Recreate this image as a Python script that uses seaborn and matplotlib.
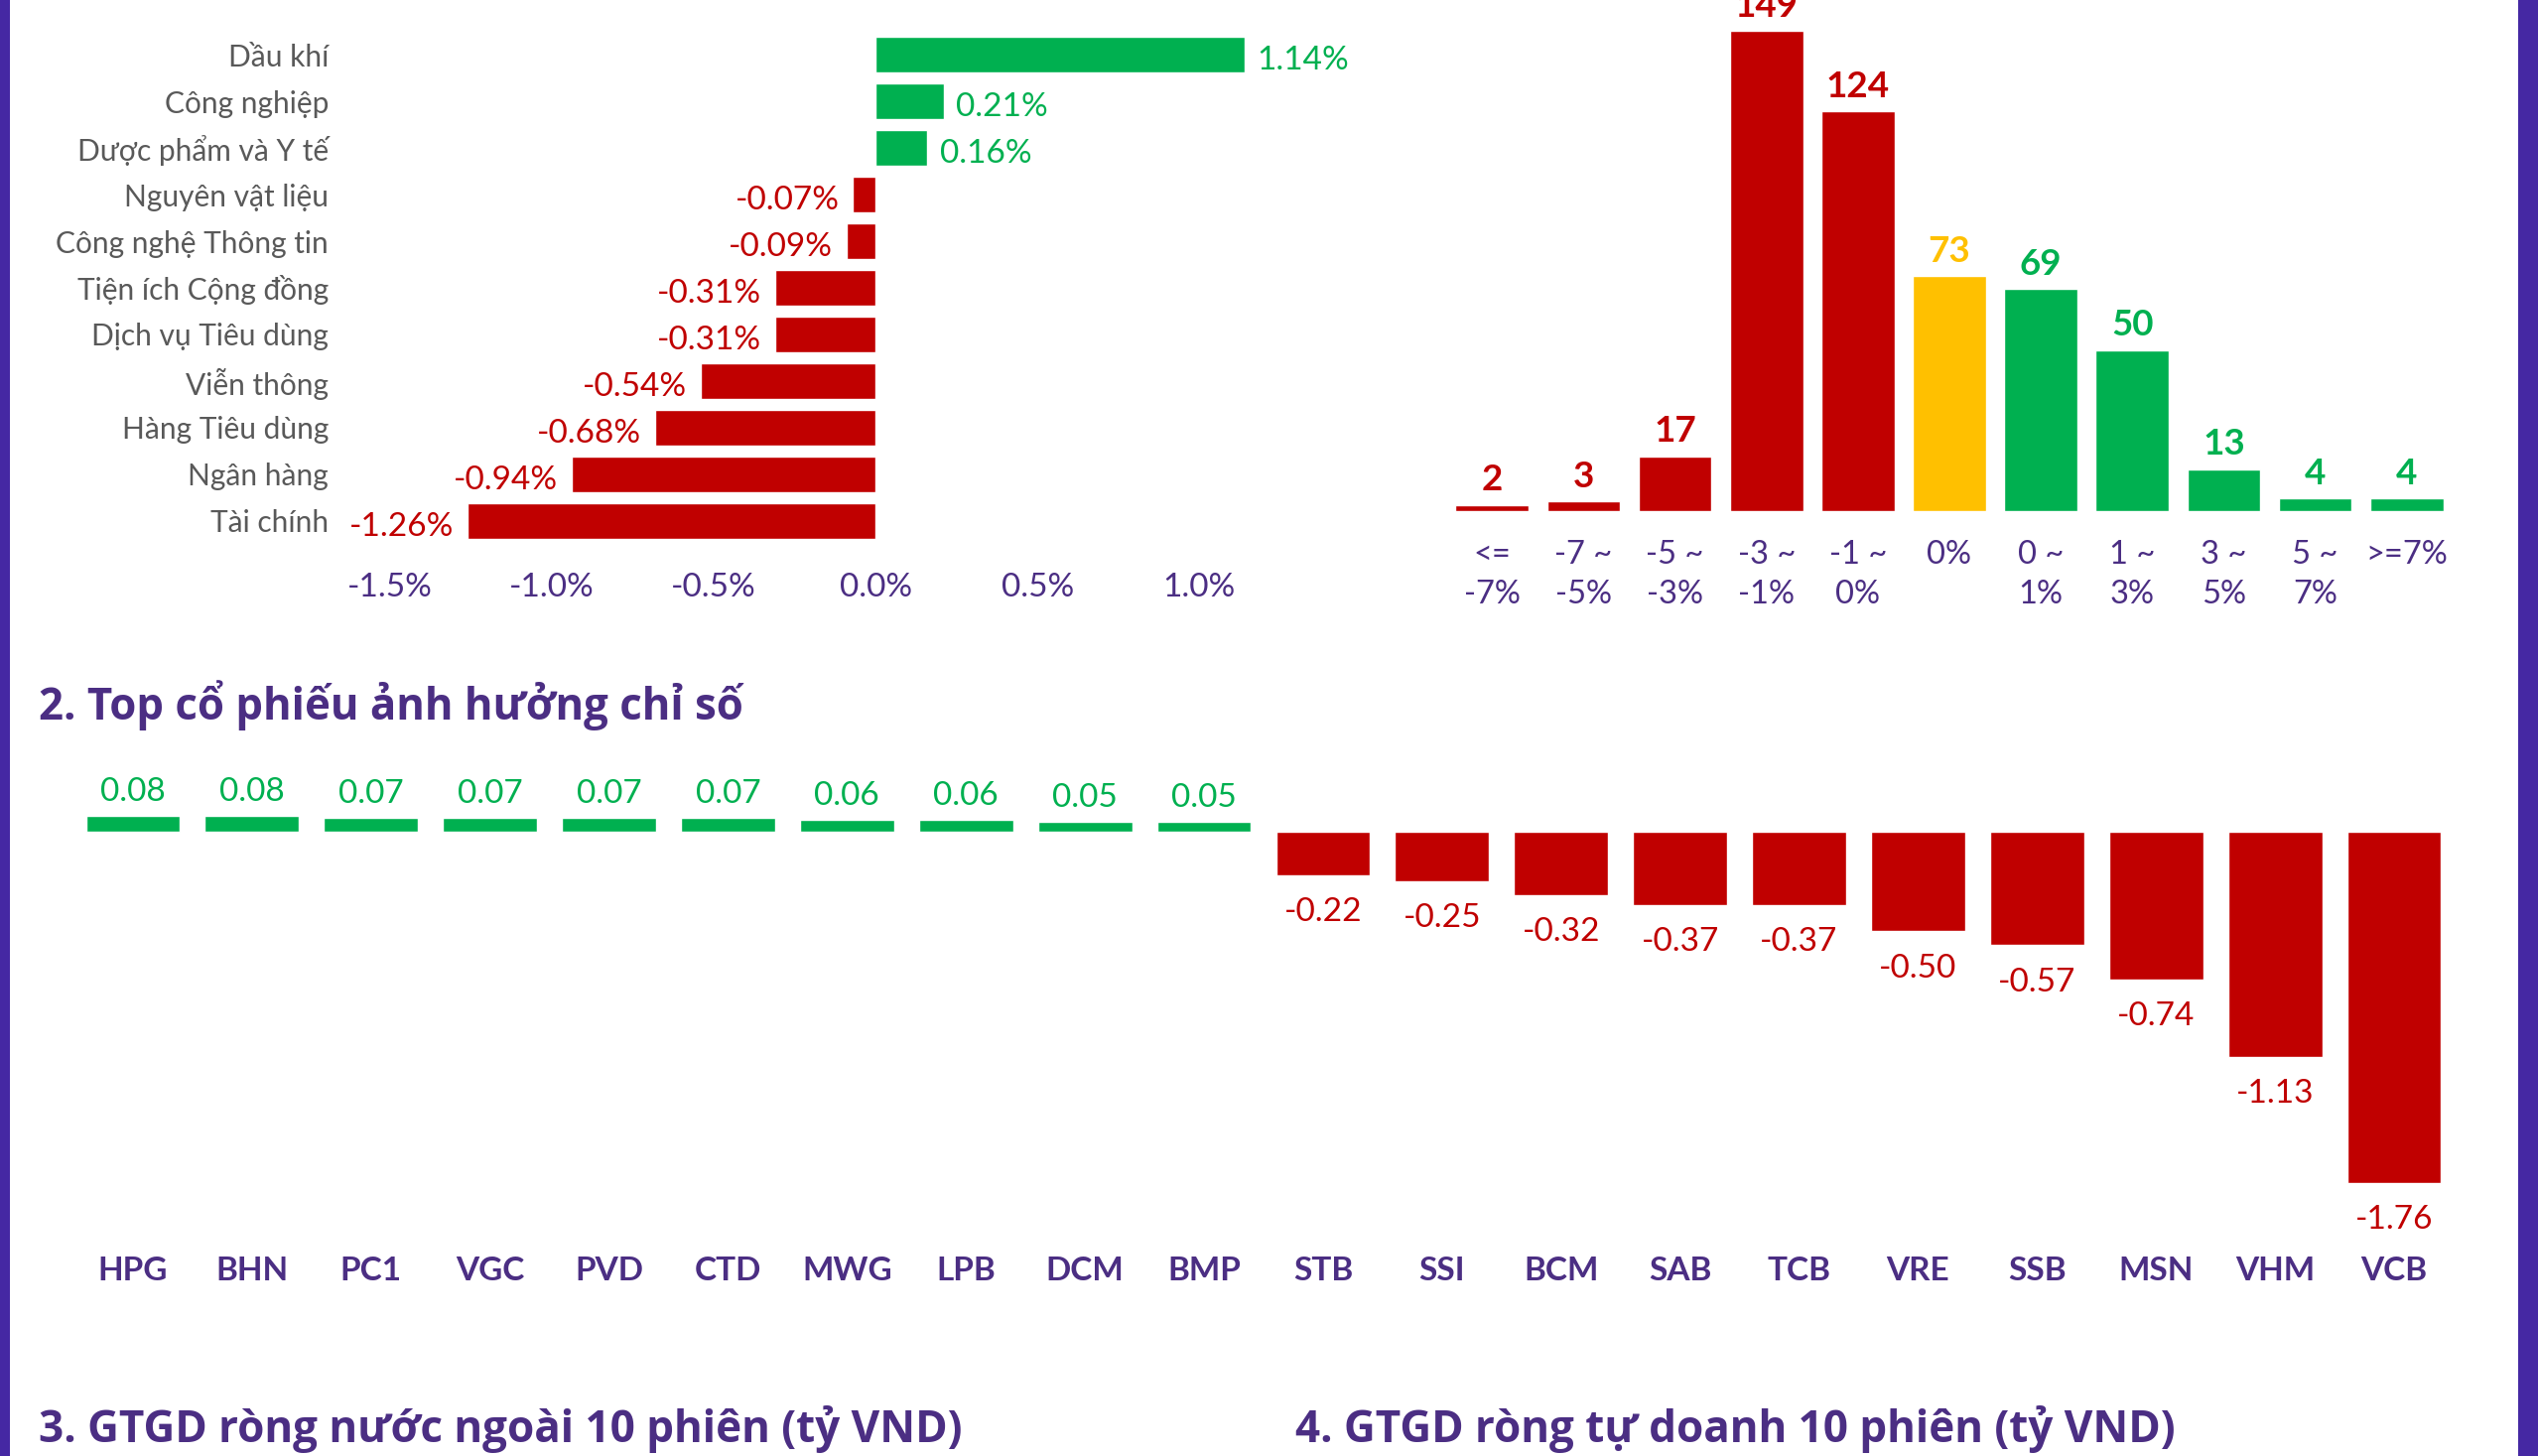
import matplotlib
matplotlib.use("Agg")
import matplotlib.pyplot as plt
import seaborn as sns
import pandas as pd
from matplotlib.patches import Rectangle

# 1. sector performance (%)
sectors = ["Dầu khí", "Công nghiệp", "Dược phẩm và Y tế", "Nguyên vật liệu",
           "Công nghệ Thông tin", "Tiện ích Cộng đồng", "Dịch vụ Tiêu dùng",
           "Viễn thông", "Hàng Tiêu dùng", "Ngân hàng", "Tài chính"]
sector_chg = [1.14, 0.21, 0.16, -0.07, -0.09, -0.31, -0.31, -0.54, -0.68, -0.94, -1.26]
sector_ticks = [-1.5, -1.0, -0.5, 0.0, 0.5, 1.0]

# price change distribution (number of stocks)
bins = ["<=\n-7%", "-7 ~\n-5%", "-5 ~\n-3%", "-3 ~\n-1%", "-1 ~\n0%", "0%",
        "0 ~\n1%", "1 ~\n3%", "3 ~\n5%", "5 ~\n7%", ">=7%"]
bin_counts = [2, 3, 17, 149, 124, 73, 69, 50, 13, 4, 4]
bin_side = ["down"] * 5 + ["flat"] + ["up"] * 5

# 2. top stocks impact on index
stocks = ["HPG", "BHN", "PC1", "VGC", "PVD", "CTD", "MWG", "LPB", "DCM", "BMP",
          "STB", "SSI", "BCM", "SAB", "TCB", "VRE", "SSB", "MSN", "VHM", "VCB"]
impact = [0.08, 0.08, 0.07, 0.07, 0.07, 0.07, 0.06, 0.06, 0.05, 0.05,
          -0.22, -0.25, -0.32, -0.37, -0.37, -0.50, -0.57, -0.74, -1.13, -1.76]

title2 = "2. Top cổ phiếu ảnh hưởng chỉ số"
title3 = "3. GTGD ròng nước ngoài 10 phiên (tỷ VND)"
title4 = "4. GTGD ròng tự doanh 10 phiên (tỷ VND)"

RED = "#C00000"
GREEN = "#00B050"
YELLOW = "#FFC000"
PURPLE = "#4B2E83"
BORDER = "#4528A3"
GRAY = "#595959"

sns.set_style("white")
plt.rcParams["font.family"] = ["Lato", "DejaVu Sans"]
TITLE_FONT = ["Open Sans", "DejaVu Sans"]

W, H = 2557, 1467
fig = plt.figure(figsize=(W / 100, H / 100), dpi=100)
fig.patch.set_facecolor("white")


def box(x0, y0, x1, y1):
    return [x0 / W, 1 - y1 / H, (x1 - x0) / W, (y1 - y0) / H]


def clean(ax):
    for s in ax.spines.values():
        s.set_visible(False)
    ax.set_xlabel("")
    ax.set_ylabel("")
    ax.tick_params(length=0)
    ax.set_facecolor("none")


# ---- panel 1: sectors ----
df1 = pd.DataFrame({"sector": sectors, "chg": sector_chg})
pal1 = {s: (GREEN if v > 0 else RED) for s, v in zip(sectors, sector_chg)}
ax1 = fig.add_axes(box(345, 27, 1355, 553))
sns.barplot(data=df1, x="chg", y="sector", hue="sector", palette=pal1,
            orient="h", width=0.78, legend=False, saturation=1, ax=ax1)
clean(ax1)
ax1.set_xlim(-1.647, 1.45)
ax1.set_ylim(10.6, -0.6)
ax1.set_xticks(sector_ticks)
ax1.set_xticklabels([f"{t:.1f}%" for t in sector_ticks], fontsize=24, color=PURPLE)
ax1.tick_params(axis="x", pad=17)
ax1.tick_params(axis="y", pad=10, labelsize=21.5, labelcolor=GRAY)
for i, v in enumerate(sector_chg):
    ax1.annotate(f"{v:.2f}%", (v, i), xytext=(9 if v > 0 else -10, -2),
                 textcoords="offset points", ha="left" if v > 0 else "right",
                 va="center_baseline", fontsize=24, color=GREEN if v > 0 else RED)

# ---- panel 1b: distribution ----
df2 = pd.DataFrame({"bin": bins, "n": bin_counts, "side": bin_side})
side_col = {"down": RED, "flat": YELLOW, "up": GREEN}
pal2 = {b: side_col[s] for b, s in zip(bins, bin_side)}
ax2 = fig.add_axes(box(1448, 28, 2480, 515))
sns.barplot(data=df2, x="bin", y="n", hue="bin", palette=pal2, width=0.8,
            legend=False, saturation=1, ax=ax2)
clean(ax2)
ax2.set_ylim(0, 150)
ax2.set_xlim(-0.6, 10.6)
ax2.set_yticks([])
for t in ax2.get_xticklabels():
    t.set_fontsize(23.5)
    t.set_color(PURPLE)
    t.set_linespacing(1.4)
ax2.tick_params(axis="x", pad=21)
for i, v in enumerate(bin_counts):
    ax2.annotate(str(v), (i, v), xytext=(0, 6), textcoords="offset points",
                 ha="center", va="bottom", fontsize=26.5, fontweight="bold",
                 color=side_col[bin_side[i]], annotation_clip=False)

# ---- panel 2: top stocks ----
df3 = pd.DataFrame({"stock": stocks, "impact": impact})
pal3 = {s: (GREEN if v > 0 else RED) for s, v in zip(stocks, impact)}
ax3 = fig.add_axes(box(62, 717, 2484, 1230))
sns.barplot(data=df3, x="stock", y="impact", hue="stock", palette=pal3,
            width=0.79, legend=False, saturation=1, ax=ax3)
clean(ax3)
ax3.set_ylim(-1.95, 0.6)
ax3.set_xlim(-0.6, 19.6)
ax3.set_yticks([])
ax3.tick_params(axis="x", pad=26, labelsize=24, labelcolor=PURPLE)
for t in ax3.get_xticklabels():
    t.set_fontweight("bold")
for i, v in enumerate(impact):
    up = v > 0
    ax3.annotate(f"{v:.2f}", (i, v), xytext=(0, 6 if up else -16),
                 textcoords="offset points", ha="center",
                 va="bottom" if up else "top", fontsize=24,
                 color=GREEN if up else RED)

# ---- titles ----
fig.text(39 / W, 1 - 725 / H, title2, fontsize=31.5, fontweight="bold",
         color=PURPLE, family=TITLE_FONT, va="baseline")
fig.text(39 / W, 1 - 1453 / H, title3, fontsize=31.7, fontweight="bold",
         color=PURPLE, family=TITLE_FONT, va="baseline")
fig.text(1305 / W, 1 - 1453 / H, title4, fontsize=31.7, fontweight="bold",
         color=PURPLE, family=TITLE_FONT, va="baseline")

# ---- frame borders ----
fig.patches.append(Rectangle((0, 0), 10 / W, 1, transform=fig.transFigure,
                             facecolor=BORDER, edgecolor="none"))
fig.patches.append(Rectangle((2537 / W, 0), 20 / W, 1, transform=fig.transFigure,
                             facecolor=BORDER, edgecolor="none"))

fig.savefig("out.png", dpi=100, facecolor="white")
